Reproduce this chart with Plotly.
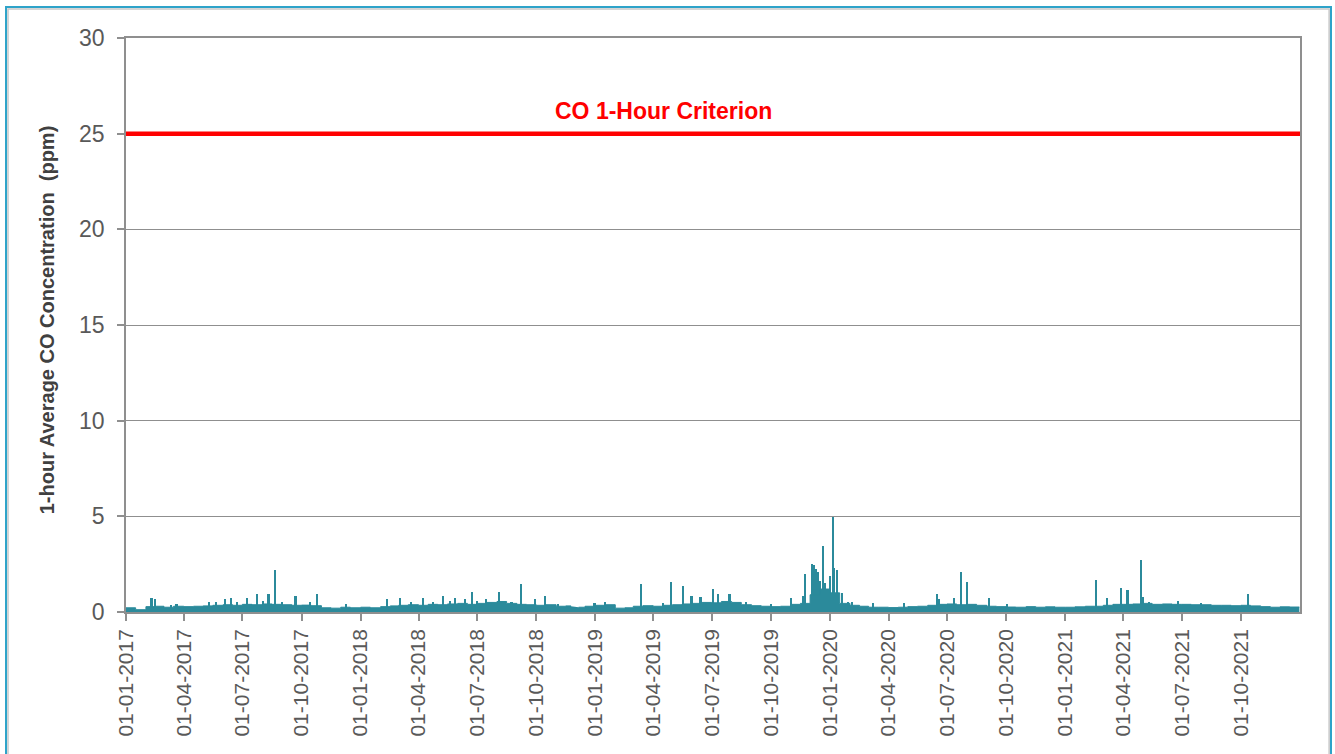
import plotly.graph_objects as go

# ---- data ----
base_dates = [
    "2017-01-01", "2017-01-16", "2017-02-01", "2017-02-16", "2017-03-01", "2017-03-16",
    "2017-04-01", "2017-04-16", "2017-05-01", "2017-05-16", "2017-06-01", "2017-06-16",
    "2017-07-01", "2017-07-16", "2017-08-01", "2017-08-16", "2017-09-01", "2017-09-16",
    "2017-10-01", "2017-10-16", "2017-11-01", "2017-11-16", "2017-12-01", "2017-12-16",
    "2018-01-01", "2018-01-16", "2018-02-01", "2018-02-16", "2018-03-01", "2018-03-16",
    "2018-04-01", "2018-04-16", "2018-05-01", "2018-05-16", "2018-06-01", "2018-06-16",
    "2018-07-01", "2018-07-16", "2018-08-01", "2018-08-16", "2018-09-01", "2018-09-16",
    "2018-10-01", "2018-10-16", "2018-11-01", "2018-11-16", "2018-11-24", "2018-11-25",
    "2018-12-06", "2018-12-16",
    "2019-01-01", "2019-01-16", "2019-02-01", "2019-02-16", "2019-03-01", "2019-03-16",
    "2019-04-01", "2019-04-16", "2019-05-01", "2019-05-16", "2019-06-01", "2019-06-16",
    "2019-07-01", "2019-07-16", "2019-08-01", "2019-08-16", "2019-09-01", "2019-09-16",
    "2019-10-01", "2019-10-16", "2019-11-01", "2019-11-16", "2019-12-01", "2019-12-16",
    "2020-01-01", "2020-01-16", "2020-02-01", "2020-02-16", "2020-03-01", "2020-03-16",
    "2020-04-01", "2020-04-16", "2020-05-01", "2020-05-16", "2020-06-01", "2020-06-16",
    "2020-07-01", "2020-07-16", "2020-08-01", "2020-08-16", "2020-09-01", "2020-09-16",
    "2020-10-01", "2020-10-16", "2020-11-01", "2020-11-16", "2020-12-01", "2020-12-16",
    "2021-01-01", "2021-01-16", "2021-02-01", "2021-02-16", "2021-03-01", "2021-03-16",
    "2021-04-01", "2021-04-16", "2021-05-01", "2021-05-16", "2021-06-01", "2021-06-16",
    "2021-07-01", "2021-07-16", "2021-08-01", "2021-08-16", "2021-09-01", "2021-09-16",
    "2021-10-01", "2021-10-16", "2021-11-01", "2021-11-16", "2021-12-01", "2021-12-16",
    "2021-12-31",
]
base_values = [
    0.22, 0.12, 0.28, 0.30, 0.25, 0.30,
    0.28, 0.30, 0.32, 0.35, 0.38, 0.35,
    0.40, 0.38, 0.42, 0.40, 0.38, 0.35,
    0.36, 0.33, 0.22, 0.20, 0.25, 0.22,
    0.25, 0.22, 0.28, 0.32, 0.35, 0.38,
    0.35, 0.40, 0.38, 0.42, 0.45, 0.40,
    0.45, 0.50, 0.55, 0.45, 0.40, 0.38,
    0.35, 0.38, 0.30, 0.32, 0.30, None,
    0.25, 0.30,
    0.35, 0.38, 0.20, 0.22, 0.30, 0.33,
    0.30, 0.35, 0.38, 0.42, 0.45, 0.50,
    0.48, 0.55, 0.50, 0.38, 0.33, 0.30,
    0.28, 0.30, 0.40, 0.45, 0.90, 1.20,
    1.00, 0.45, 0.35, 0.30, 0.25, 0.25,
    0.23, 0.25, 0.28, 0.30, 0.35, 0.40,
    0.42, 0.38, 0.40, 0.35, 0.30, 0.28,
    0.26, 0.25, 0.28, 0.25, 0.27, 0.25,
    0.25, 0.27, 0.30, 0.30, 0.35, 0.40,
    0.40, 0.42, 0.45, 0.40, 0.42, 0.40,
    0.40, 0.38, 0.38, 0.35, 0.35, 0.33,
    0.35, 0.32, 0.28, 0.25, 0.27, 0.26,
    0.26,
]

spike_dates = [
    "2017-02-10", "2017-02-16", "2017-03-13", "2017-03-21", "2017-05-10", "2017-05-21",
    "2017-06-04", "2017-06-14", "2017-06-23", "2017-07-09", "2017-07-24", "2017-08-02",
    "2017-08-11", "2017-08-21", "2017-09-01", "2017-09-22", "2017-10-15", "2017-10-26",
    "2017-12-10",
    "2018-02-12", "2018-03-04", "2018-03-21", "2018-04-09", "2018-04-24", "2018-05-10",
    "2018-05-20", "2018-05-28", "2018-06-12", "2018-06-24", "2018-07-02", "2018-07-15",
    "2018-08-05", "2018-08-24", "2018-09-08", "2018-09-29", "2018-10-15", "2018-11-04",
    "2018-12-31",
    "2019-01-17", "2019-03-14", "2019-04-16", "2019-04-29", "2019-05-18", "2019-05-31",
    "2019-06-14", "2019-07-03", "2019-07-11", "2019-07-29", "2019-08-24", "2019-10-02",
    "2019-11-02", "2019-11-20", "2019-11-24", "2019-12-04", "2019-12-07", "2019-12-10",
    "2019-12-14", "2019-12-17", "2019-12-21", "2019-12-24", "2020-01-01", "2020-01-06",
    "2020-01-08", "2020-01-12", "2020-01-20", "2020-01-29", "2020-02-04",
    "2020-03-08", "2020-04-26", "2020-06-16", "2020-06-19", "2020-07-12", "2020-07-23",
    "2020-08-02", "2020-09-04", "2020-10-03",
    "2021-02-18", "2021-03-07", "2021-03-29", "2021-04-08", "2021-04-29", "2021-05-02",
    "2021-05-12", "2021-06-25", "2021-08-01", "2021-10-12",
]
spike_values = [
    0.75, 0.66, 0.37, 0.42, 0.54, 0.50,
    0.66, 0.75, 0.50, 0.75, 0.94, 0.55,
    0.94, 2.20, 0.50, 0.84, 0.50, 0.94,
    0.40,
    0.66, 0.75, 0.50, 0.75, 0.50, 0.85,
    0.60, 0.75, 0.66, 1.03, 0.60, 0.70,
    1.06, 0.50, 1.46, 0.66, 0.84, 0.40,
    0.45,
    0.50, 1.46, 0.45, 1.58, 1.37, 0.85,
    0.80, 1.19, 0.94, 0.94, 0.50, 0.40,
    0.75, 0.84, 2.00, 2.50, 2.45, 2.25,
    2.10, 1.60, 3.47, 1.50, 1.88, 4.95,
    2.28, 2.20, 1.00, 0.50, 0.50,
    0.45, 0.45, 0.94, 0.70, 0.75, 2.10,
    1.58, 0.75, 0.40,
    1.67, 0.72, 1.24, 1.15, 2.72, 0.80,
    0.50, 0.60, 0.45, 0.94,
]

criterion_value = 25
criterion_label = "CO 1-Hour Criterion"
tick_dates = [
    "2017-01-01", "2017-04-01", "2017-07-01", "2017-10-01",
    "2018-01-01", "2018-04-01", "2018-07-01", "2018-10-01",
    "2019-01-01", "2019-04-01", "2019-07-01", "2019-10-01",
    "2020-01-01", "2020-04-01", "2020-07-01", "2020-10-01",
    "2021-01-01", "2021-04-01", "2021-07-01", "2021-10-01",
]
y_title = "1-hour Average CO Concentration  (ppm)"

TEAL = "#2b8a9b"
GRID = "#8f8f8f"
FONT = "Liberation Sans, Arial, sans-serif"

fig = go.Figure()
fig.add_trace(go.Scatter(
    x=base_dates, y=base_values, mode="lines", line=dict(color=TEAL, width=1, shape="hv"),
    fill="tozeroy", fillcolor=TEAL, connectgaps=False, showlegend=False, hoverinfo="skip",
))
fig.add_trace(go.Bar(
    x=spike_dates, y=spike_values, width=2.5 * 86400000, marker=dict(color=TEAL, line=dict(width=0)),
    showlegend=False,
))
fig.add_trace(go.Scatter(
    x=["2017-01-01", "2022-01-01"], y=[criterion_value, criterion_value], mode="lines",
    line=dict(color="#ff0000", width=4.5), showlegend=False, hoverinfo="skip",
))

fig.add_annotation(
    xref="paper", yref="y", x=0.458, y=criterion_value + 1.2, text="<b>" + criterion_label + "</b>",
    showarrow=False, font=dict(family=FONT, size=23, color="#ff0000"), xanchor="center", yanchor="middle",
)
fig.add_annotation(
    xref="paper", yref="paper", x=-0.0673, y=0.51, text="<b>" + y_title + "</b>", textangle=-90,
    showarrow=False, font=dict(family=FONT, size=20, color="#404040"), xanchor="center", yanchor="middle",
)

# outer frame
fig.add_shape(type="rect", xref="paper", yref="paper", x0=-0.1005, x1=1.0248, y0=-0.26, y1=1.0505,
              line=dict(color="#c8c8c8", width=1.5), layer="below")
fig.add_shape(type="rect", xref="paper", yref="paper", x0=-0.1022, x1=1.0264, y0=-0.27, y1=1.054,
              line=dict(color="#2ea3c9", width=2), layer="below")

fig.update_layout(
    width=1335, height=754,
    margin=dict(l=126, r=35, t=38, b=142),
    plot_bgcolor="white", paper_bgcolor="white",
    bargap=0, barmode="overlay",
    font=dict(family=FONT, color="#595959"),
)
fig.update_xaxes(
    type="date", range=["2017-01-01", "2022-01-01"],
    tickvals=tick_dates, tickformat="%d-%m-%Y", tickangle=-90,
    tickfont=dict(family=FONT, size=21, color="#595959"),
    showgrid=False, showline=True, linecolor=GRID, linewidth=1.5, mirror=True,
    ticks="outside", ticklen=7, tickcolor=GRID, tickwidth=1.5, zeroline=False,
)
fig.update_yaxes(
    range=[0, 30], dtick=5, tick0=0,
    tickfont=dict(family=FONT, size=23, color="#595959"),
    ticklabelstandoff=8,
    showgrid=True, gridcolor=GRID, gridwidth=1,
    showline=True, linecolor=GRID, linewidth=1.5, mirror=True,
    ticks="outside", ticklen=7, tickcolor=GRID, tickwidth=1.5, zeroline=False,
)

fig.write_html(
    "out.html",
    config={"displayModeBar": False},
    post_script="document.body.style.margin='0';document.body.style.overflow='hidden';",
)
